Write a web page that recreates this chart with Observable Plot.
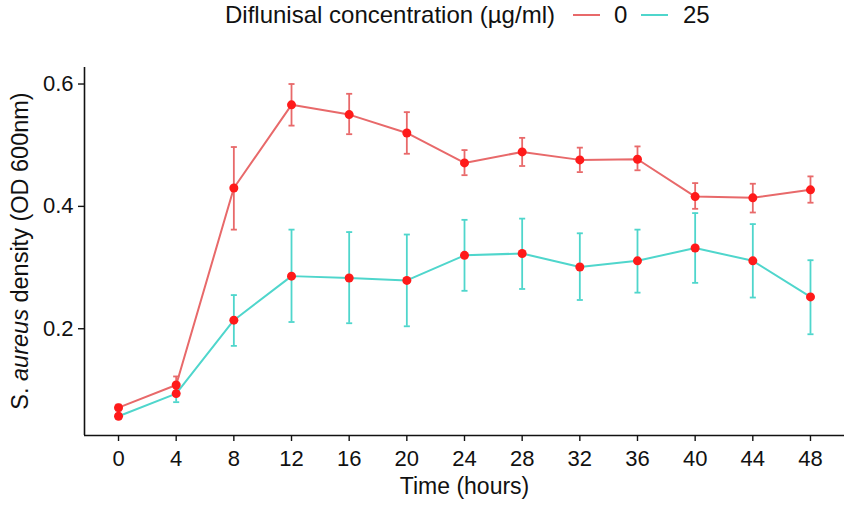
<!DOCTYPE html>
<html>
<head>
<meta charset="utf-8">
<script src="https://cdn.jsdelivr.net/npm/d3@7"></script>
<script src="https://cdn.jsdelivr.net/npm/@observablehq/plot@0.6"></script>
<style>
  html, body { margin: 0; padding: 0; background: #fff; }
  #wrap { position: relative; width: 851px; font-family: "Liberation Sans", Arial, sans-serif; }
  #legend { height: 40px; position: relative; font-size: 24px; color: #111; }
  #legend .item { position: absolute; top: 3px; line-height: 24px; white-space: nowrap; }
  #legend .sw { position: absolute; top: 14px; height: 2px; width: 27px; }
  svg { display: block; }
</style>
</head>
<body>
<div id="wrap">
  <div id="legend"></div>
  <div id="chart"></div>
</div>
<script>
const hours = [0, 4, 8, 12, 16, 20, 24, 28, 32, 36, 40, 44, 48];
const concentrations = ["0", "25"];
const seriesColors = ["#E8696A", "#4FD6CC"];
const mean0  = [0.071, 0.108, 0.430, 0.566, 0.550, 0.520, 0.471, 0.489, 0.476, 0.477, 0.416, 0.414, 0.427];
const lower0 = [0.066, 0.095, 0.362, 0.532, 0.518, 0.486, 0.451, 0.466, 0.456, 0.459, 0.396, 0.390, 0.406];
const upper0 = [0.076, 0.122, 0.497, 0.600, 0.584, 0.554, 0.492, 0.512, 0.496, 0.498, 0.438, 0.437, 0.449];
const mean25  = [0.057, 0.094, 0.214, 0.286, 0.283, 0.279, 0.320, 0.323, 0.301, 0.311, 0.332, 0.311, 0.252];
const lower25 = [0.053, 0.080, 0.172, 0.211, 0.209, 0.204, 0.262, 0.265, 0.247, 0.259, 0.275, 0.251, 0.191];
const upper25 = [0.061, 0.108, 0.255, 0.362, 0.358, 0.354, 0.378, 0.380, 0.356, 0.362, 0.389, 0.371, 0.312];
const yTicks = [0.2, 0.4, 0.6];
const xDomain = [-2.36, 50.36];
const yDomain = [0.0255, 0.627];

const data = [];
hours.forEach((h, i) => {
  data.push({hour: h, conc: "0", mean: mean0[i], lo: lower0[i], hi: upper0[i]});
  data.push({hour: h, conc: "25", mean: mean25[i], lo: lower25[i], hi: upper25[i]});
});

// legend
const legend = document.getElementById("legend");
legend.innerHTML = `
  <span class="item" style="left:225px">Diflunisal concentration (µg/ml)</span>
  <span class="sw" style="left:573px;background:${seriesColors[0]}"></span>
  <span class="item" style="left:614px">${concentrations[0]}</span>
  <span class="sw" style="left:641px;background:${seriesColors[1]}"></span>
  <span class="item" style="left:683px">${concentrations[1]}</span>`;

const capHalf = 0.21;
const color = {domain: concentrations, range: seriesColors};

const plot = Plot.plot({
  width: 851,
  height: 465,
  marginTop: 27,
  marginBottom: 70,
  marginLeft: 84,
  marginRight: 7,
  style: {fontFamily: "Liberation Sans, Arial, sans-serif", fontSize: "22px", color: "#111", background: "#fff"},
  x: {domain: xDomain, ticks: hours, label: null},
  y: {domain: yDomain, ticks: yTicks, label: null},
  color,
  marks: [
    Plot.line(data, {x: "hour", y: "mean", z: "conc", stroke: d => d.conc, strokeWidth: 2}),
    Plot.ruleX(data, {x: "hour", y1: "lo", y2: "hi", stroke: d => d.conc, strokeWidth: 1.8}),
    Plot.link(data, {x1: d => d.hour - capHalf, x2: d => d.hour + capHalf, y1: "hi", y2: "hi", stroke: d => d.conc, strokeWidth: 1.8}),
    Plot.link(data, {x1: d => d.hour - capHalf, x2: d => d.hour + capHalf, y1: "lo", y2: "lo", stroke: d => d.conc, strokeWidth: 1.8}),
    Plot.dot(data, {x: "hour", y: "mean", r: 4.5, fill: "#FF1A1A", stroke: "none"}),
    Plot.ruleX([xDomain[0]], {stroke: "#111", strokeWidth: 1.6}),
    Plot.ruleY([yDomain[0]], {stroke: "#111", strokeWidth: 1.6}),
    Plot.axisX({ticks: hours, tickSize: 6, tickPadding: 9, stroke: "#111", strokeWidth: 1.4, fontSize: 22, label: null}),
    Plot.axisY({ticks: yTicks, tickSize: 6, tickPadding: 5, stroke: "#111", strokeWidth: 1.4, fontSize: 22, tickFormat: d => d.toFixed(1), label: null}),
    Plot.text(["Time (hours)"], {frameAnchor: "bottom", dy: 58, fontSize: 23, fill: "#111"})
  ]
});

// y-axis title with italic species name
const svg = d3.select(plot);
const t = svg.append("text")
  .attr("transform", `translate(22, ${27 + (465 - 27 - 70) / 2}) rotate(-90)`)
  .attr("text-anchor", "middle")
  .attr("font-size", 23.5)
  .attr("fill", "#111")
  .attr("dominant-baseline", "middle");
t.append("tspan").text("S. ");
t.append("tspan").attr("font-style", "italic").text("aureus");
t.append("tspan").text(" density (OD 600nm)");

document.getElementById("chart").appendChild(plot);
</script>
</body>
</html>
